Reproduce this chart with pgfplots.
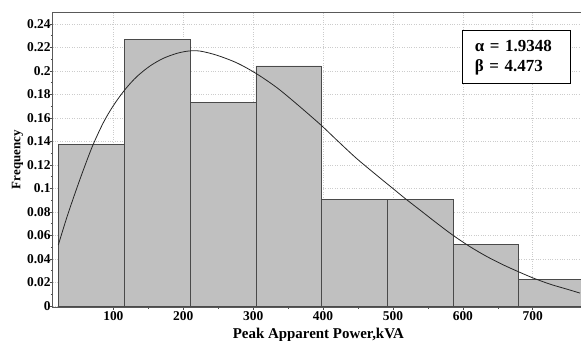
\documentclass[border=0pt]{standalone}
\usepackage{fontspec}
\setmainfont{Liberation Serif}
\usepackage{pgfplots}
\pgfplotsset{compat=1.18}
\definecolor{barfill}{HTML}{C0C0C0}
\definecolor{baredge}{HTML}{4A4A4A}
\begin{document}
\begin{tikzpicture}[x=1bp,y=1bp]
\begin{axis}[
  at={(0,0)}, anchor=south west,
  scale only axis, width=531.3bp, height=294.7bp,
  xmin=13.2, xmax=773.3, ymin=-0.00085, ymax=0.25,
  xtick={100,200,300,400,500,600,700},
  ytick={0,0.02,0.04,0.06,0.08,0.1,0.12,0.14,0.16,0.18,0.2,0.22,0.24},
  minor x tick num=1, minor y tick num=1,
  tick align=outside, tick pos=left,
  major tick length=3bp, minor tick length=1.8bp,
  grid=major, major grid style={dotted, color=gray!40, line width=0.6bp},
  axis line style={color=black!65, line width=0.8bp},
  tick style={color=black!70, line width=0.6bp},
  ticklabel style={font=\fontsize{13.5}{15}\selectfont\bfseries},
  xticklabel style={yshift=1.5bp},
  yticklabel style={xshift=4.5bp},
  /pgf/number format/assume math mode=true,
  yticklabel style={/pgf/number format/fixed, /pgf/number format/precision=2},
  scaled y ticks=false,
  xlabel={Peak Apparent Power,kVA}, ylabel={Frequency},
  xlabel style={font=\fontsize{15}{17}\selectfont\bfseries,
    at={(axis description cs:0.5,0)}, anchor=base, yshift=-31.3bp},
  ylabel style={font=\fontsize{13}{15}\selectfont\bfseries,
    at={(axis description cs:-0.0553,0.5)}, anchor=south, inner sep=0pt},
]
\addplot[ybar interval, fill=barfill, draw=baredge, line width=0.6bp] coordinates {
  (21.2,0.1375) (115.6,0.2266) (209.6,0.1735) (304,0.2043) (397,0.0909)
  (491.8,0.0909) (586.3,0.0523) (679.8,0.0227) (775,0.0227)
};
\addplot[smooth, tension=0.5, black!85, line width=0.8bp, mark=none] coordinates {
  (21.2,0.0519) (33.2,0.0750) (45.1,0.0959) (57,0.1157) (70.4,0.1365)
  (85.6,0.1560) (99.9,0.1705) (116.6,0.1842) (133.3,0.1951) (152.4,0.2043)
  (171.4,0.2108) (190.6,0.2150) (207.2,0.2170) (223.9,0.2170) (247.8,0.2135)
  (276.4,0.2070) (304,0.1980) (333.6,0.1860) (362.2,0.1720) (397,0.1540)
  (419.5,0.1413) (448.1,0.1255) (481.4,0.1090) (500.4,0.0998) (517.2,0.0916)
  (538.6,0.0817) (562.5,0.0706) (586.3,0.0600) (610.2,0.0505) (634,0.0422)
  (657.8,0.0350) (681.7,0.0286) (700.7,0.0238) (724.6,0.0186) (748.5,0.0144)
  (767.5,0.0110)
};
\node[draw=black, line width=0.9bp, fill=white, align=left,
  font=\fontsize{17}{20}\selectfont\bfseries,
  minimum width=108bp, minimum height=53.3bp, text width=83.4bp,
  inner xsep=12.3bp, inner ysep=0pt] at (rel axis cs:0.873,0.8473) {α = 1.9348\\β = 4.473};
\end{axis}
\pgfresetboundingbox
\path (-52.7bp,-34bp) rectangle (528.3bp,307bp);
\end{tikzpicture}
\end{document}
